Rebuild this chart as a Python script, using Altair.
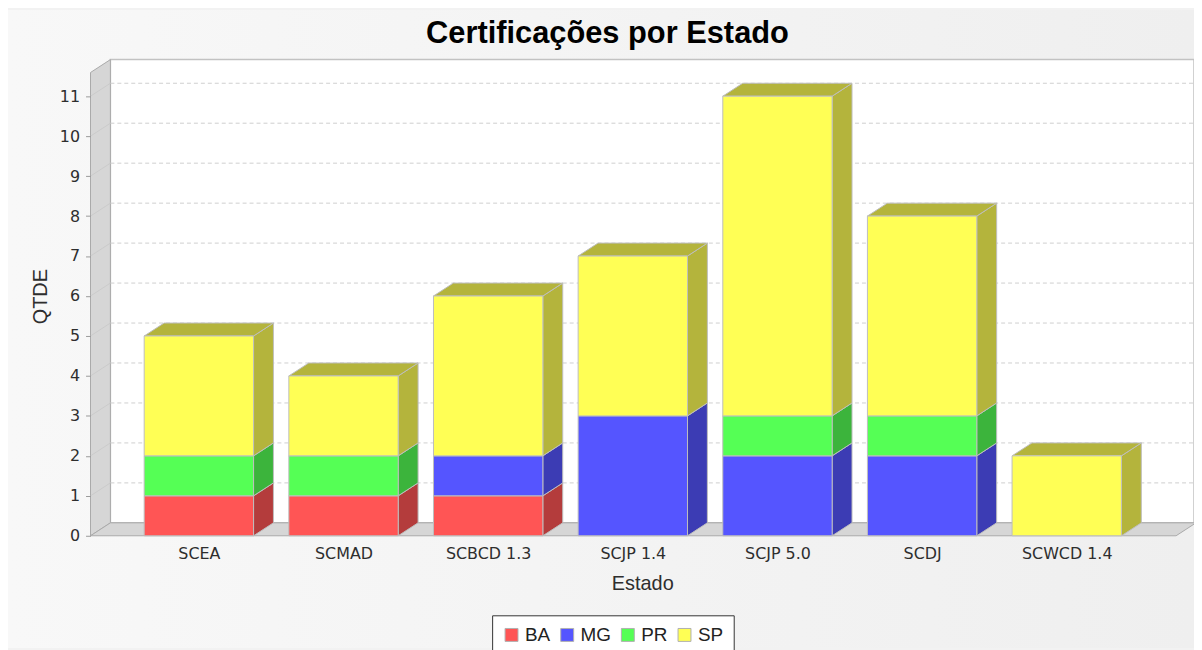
import altair as alt
import pandas as pd

# ---------------- data ----------------
CATEGORIES = ["SCEA", "SCMAD", "SCBCD 1.3", "SCJP 1.4", "SCJP 5.0", "SCDJ", "SCWCD 1.4"]
SERIES = ["BA", "MG", "PR", "SP"]
BA = [1, 1, 1, 0, 0, 0, 0]
MG = [0, 0, 1, 3, 2, 2, 0]
PR = [1, 1, 0, 0, 1, 1, 0]
SP = [3, 2, 4, 4, 8, 5, 2]
Y_TICKS = list(range(0, 12))
TITLE = "Certificações por Estado"
X_TITLE = "Estado"
Y_TITLE = "QTDE"

# ---------------- style ----------------
FRONT_COLORS = ["#ff5555", "#5555ff", "#55ff55", "#ffff55"]
SIDE_COLORS = ["#b43c3c", "#3c3cb4", "#3cb43c", "#b4b43c"]
EDGE = "#bdbdbd"
WALL = "#d6d6d6"
WALL_EDGE = "#a9a9a9"
GRID = "#cfcfcf"
TXT = "#2e2e2e"

# ---------------- layout (pixels) ----------------
W, H = 1110, 479
PAD_L, PAD_T, PAD_B = 83, 50, 113
PX_X = 145.5        # pixels per category step
PX_Y = 40.2         # pixels per unit
FIRST_CENTER = 200 - 91  # px from plot left to first category centre
DX_PX, DY_PX = 20, 13
BAR_PX = 110

XMIN = -FIRST_CENTER / PX_X
XMAX = XMIN + W / PX_X
YMAX = H / PX_Y
DXU = DX_PX / PX_X
DYU = DY_PX / PX_Y
HW = BAR_PX / 2 / PX_X
YFRONT_TOP = YMAX - DYU
XFLOOR_R = XMIN + (1183 - 91) / PX_X

XS = alt.Scale(domain=[XMIN, XMAX], nice=False, zero=False)
YS = alt.Scale(domain=[0, YMAX], nice=False, zero=False)

label_expr = "[" + ",".join("'" + c + "'" for c in CATEGORIES) + "][datum.value]"

XAX = alt.Axis(values=list(range(len(CATEGORIES))), labelExpr=label_expr,
               title=X_TITLE, grid=False, domain=False, ticks=False, tickSize=0,
               labelPadding=23, labelBaseline="alphabetic", labelFlush=False,
               labelOverlap=False, labelFont="DejaVu Sans", labelFontSize=16,
               labelColor=TXT, titleFont="Liberation Sans", titleFontSize=20,
               titleFontWeight="normal", titleColor=TXT, titleBaseline="alphabetic",
               titleY=54, zindex=1)
YAX = alt.Axis(values=Y_TICKS, title=Y_TITLE, grid=False, domain=False,
               ticks=True, tickSize=5, tickColor="#9a9a9a", labelPadding=6,
               labelFont="DejaVu Sans", labelFontSize=16, labelColor=TXT,
               titleFont="Liberation Sans", titleFontSize=20, titleFontWeight="normal",
               titleColor=TXT, titleBaseline="alphabetic", titleX=-44, titleY=238,
               zindex=1)

# ---------------- tables built from the arrays ----------------
rows, sides, tops = [], [], []
for i, cat in enumerate(CATEGORIES):
    base = 0
    last = None
    for s, vals in zip(SERIES, [BA, MG, PR, SP]):
        v = vals[i]
        if v <= 0:
            continue
        y0, y1 = base, base + v
        base = y1
        seg = f"{i}-{s}"
        rows.append(dict(cat=cat, estado=s, qtde=v, x0=i - HW, x1=i + HW, y0=y0, y1=y1))
        sides.append(dict(seg=seg, estado=s, x=i + HW, y=y0, y2=y1))
        sides.append(dict(seg=seg, estado=s, x=i + HW + DXU, y=y0 + DYU, y2=y1 + DYU))
        last = (s, y1)
    s, yt = last
    tops.append(dict(seg=str(i), estado=s, y=yt, x=i - HW, x2=i + HW))
    tops.append(dict(seg=str(i), estado=s, y=yt + DYU, x=i - HW + DXU, x2=i + HW + DXU))

bars_df = pd.DataFrame(rows)
side_df = pd.DataFrame(sides)
top_df = pd.DataFrame(tops)

grid_df = pd.DataFrame({"v": Y_TICKS[1:]})
grid_df["yb"] = grid_df["v"] + DYU
grid_df["xa"] = XMIN
grid_df["xb"] = XMIN + DXU
grid_df["xe"] = XMAX

back_df = pd.DataFrame([dict(x=XMIN + DXU, x2=XMAX, y=DYU, y2=YMAX)])
lwall_df = pd.DataFrame([dict(x=XMIN, y=0, y2=YFRONT_TOP),
                         dict(x=XMIN + DXU, y=DYU, y2=YMAX)])
floor_df = pd.DataFrame([dict(y=0, x=XMIN, x2=XFLOOR_R),
                         dict(y=DYU, x=XMIN + DXU, x2=XFLOOR_R + DXU)])
title_df = pd.DataFrame({"t": [TITLE]})

# ---------------- layers ----------------
bg = alt.Chart(title_df).mark_rect(
    fill=alt.Gradient(gradient="linear",
                      stops=[alt.GradientStop(color="#f8f8f8", offset=0),
                             alt.GradientStop(color="#efefef", offset=1)],
                      x1=0, x2=1, y1=0, y2=0)
).encode(x=alt.value(-PAD_L), x2=alt.value(W), y=alt.value(-PAD_T), y2=alt.value(H + PAD_B))

back = alt.Chart(back_df).mark_rect(fill="white", stroke="#c2c2c2", strokeWidth=1.5).encode(
    x=alt.X("x:Q", scale=XS, axis=XAX), x2="x2:Q",
    y=alt.Y("y:Q", scale=YS, axis=YAX), y2="y2:Q")

lwall = alt.Chart(lwall_df).mark_area(orient="vertical", fill=WALL, stroke=WALL_EDGE, strokeWidth=1).encode(
    x=alt.X("x:Q", scale=XS, axis=XAX),
    y=alt.Y("y:Q", scale=YS, axis=YAX, stack=None), y2="y2:Q")

floor = alt.Chart(floor_df).mark_area(orient="horizontal", fill=WALL, stroke=WALL_EDGE, strokeWidth=1).encode(
    y=alt.Y("y:Q", scale=YS, axis=YAX),
    x=alt.X("x:Q", scale=XS, axis=XAX, stack=None), x2="x2:Q")

grid_back = alt.Chart(grid_df).mark_rule(color=GRID, strokeDash=[4, 3], strokeWidth=1).encode(
    x=alt.X("xb:Q", scale=XS, axis=XAX), x2="xe:Q",
    y=alt.Y("yb:Q", scale=YS, axis=YAX))

grid_wall = alt.Chart(grid_df).mark_rule(color="#c6c6c6", strokeWidth=1, opacity=0.7).encode(
    x=alt.X("xa:Q", scale=XS, axis=XAX), x2="xb:Q",
    y=alt.Y("v:Q", scale=YS, axis=YAX), y2="yb:Q")

side = alt.Chart(side_df).mark_area(orient="vertical", stroke=EDGE, strokeWidth=1).encode(
    x=alt.X("x:Q", scale=XS, axis=XAX),
    y=alt.Y("y:Q", scale=YS, axis=YAX, stack=None), y2="y2:Q",
    detail="seg:N",
    color=alt.Color("estado:N", scale=alt.Scale(domain=SERIES, range=SIDE_COLORS), legend=None))

top = alt.Chart(top_df).mark_area(orient="horizontal", stroke=EDGE, strokeWidth=1).encode(
    y=alt.Y("y:Q", scale=YS, axis=YAX),
    x=alt.X("x:Q", scale=XS, axis=XAX, stack=None), x2="x2:Q",
    detail="seg:N",
    color=alt.Color("estado:N", scale=alt.Scale(domain=SERIES, range=SIDE_COLORS), legend=None))

front = alt.Chart(bars_df).mark_rect(stroke=EDGE, strokeWidth=1).encode(
    x=alt.X("x0:Q", scale=XS, axis=XAX), x2="x1:Q",
    y=alt.Y("y0:Q", scale=YS, axis=YAX), y2="y1:Q",
    color=alt.Color("estado:N", scale=alt.Scale(domain=SERIES, range=FRONT_COLORS),
                    legend=alt.Legend(orient="none", legendX=404, legendY=559,
                                      direction="horizontal", title=None, symbolType="square",
                                      symbolSize=169, symbolStrokeColor="#b0b0b0",
                                      symbolStrokeWidth=1, symbolOpacity=1,
                                      labelFont="Liberation Sans", labelFontSize=19,
                                      labelColor="#222222", labelOffset=4, columnPadding=7,
                                      padding=10, strokeColor="#333333", fillColor="white")),
    tooltip=["cat:N", "estado:N", "qtde:Q"])

title = alt.Chart(title_df).mark_text(
    font="Liberation Sans", fontSize=31, fontWeight="bold", color="black",
    align="center", baseline="alphabetic"
).encode(x=alt.value(520), y=alt.value(-17), text="t:N")

chart = alt.layer(bg, back, lwall, floor, grid_wall, grid_back, side, top, front, title).resolve_scale(
    color="independent"
).properties(
    width=W, height=H,
    autosize=alt.AutoSizeParams(type="none"),
    padding={"left": PAD_L, "top": PAD_T, "right": 0, "bottom": PAD_B},
    background="#f2f2f2",
).configure_view(stroke=None)

chart.save("out.html", embed_options={"renderer": "svg", "actions": False})
